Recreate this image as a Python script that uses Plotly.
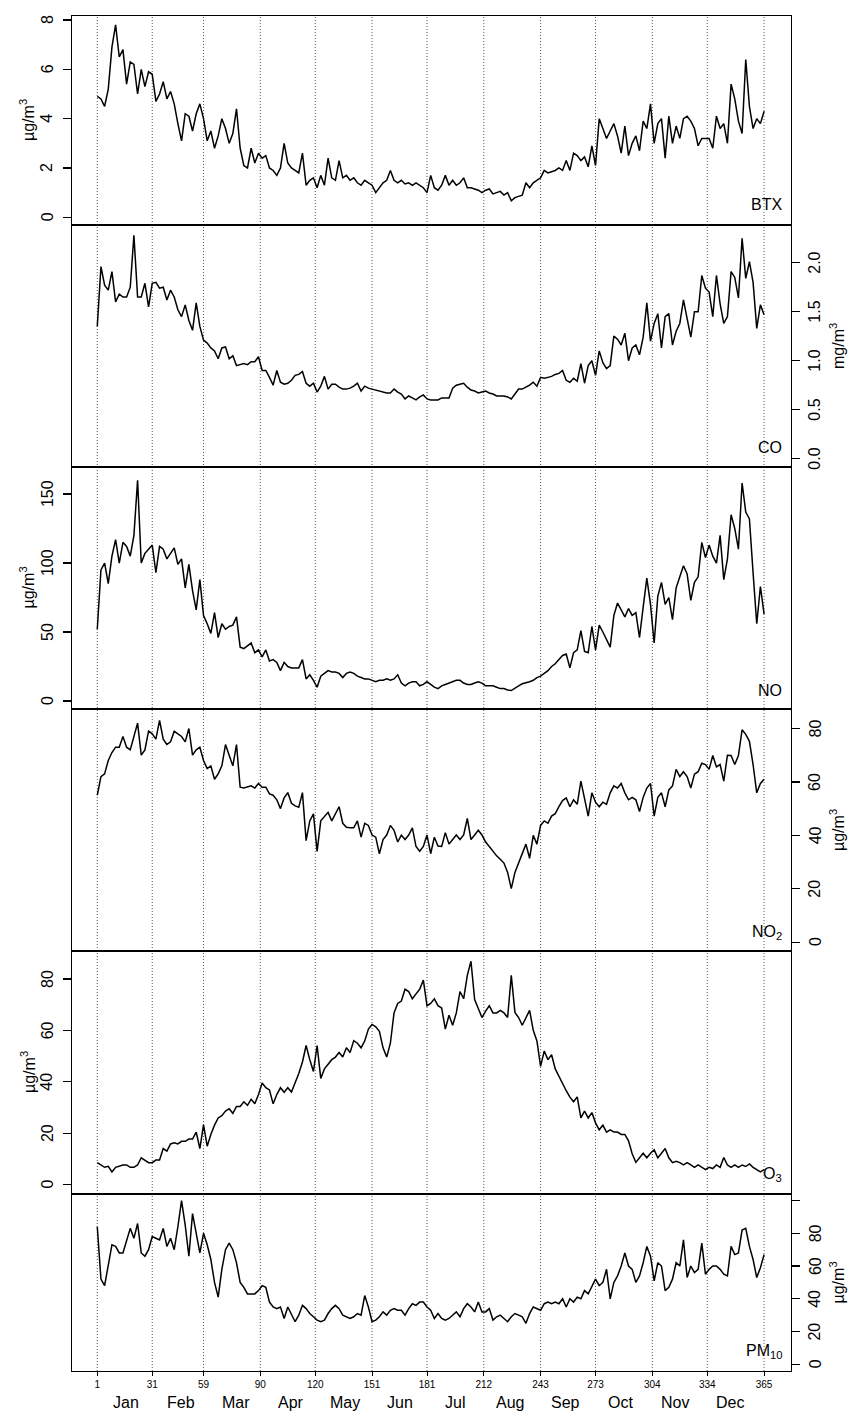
import plotly.graph_objects as go

# ---- data (values read every 2nd day: days 1,3,5,...,365) ----
btx = [4.9, 4.8, 4.5, 5.2, 6.9, 7.8, 6.5, 6.8, 5.4, 6.3,
       6.2, 5.0, 6.0, 5.3, 5.9, 5.8, 4.7, 5.0, 5.5, 4.8,
       5.1, 4.6, 3.8, 3.1, 4.2, 4.1, 3.5, 4.2, 4.6, 4.0,
       3.1, 3.5, 2.8, 3.3, 4.0, 3.6, 3.0, 3.4, 4.4, 2.8,
       2.1, 2.0, 2.8, 2.2, 2.6, 2.4, 2.5, 2.0, 1.9, 1.7,
       2.0, 3.0, 2.2, 2.0, 1.9, 1.8, 2.6, 1.3, 1.5, 1.6,
       1.2, 1.7, 1.3, 2.4, 1.6, 1.5, 2.3, 1.6, 1.7, 1.5,
       1.6, 1.4, 1.3, 1.5, 1.4, 1.3, 1.0, 1.2, 1.4, 1.5,
       1.9, 1.5, 1.4, 1.5, 1.35, 1.4, 1.3, 1.4, 1.3, 1.2,
       1.0, 1.7, 1.2, 1.1, 1.3, 1.7, 1.3, 1.5, 1.3, 1.4,
       1.6, 1.2, 1.2, 1.15, 1.1, 1.0, 1.1, 1.15, 0.95, 1.0,
       1.05, 0.9, 1.0, 0.67, 0.8, 0.85, 0.9, 1.4, 1.2, 1.4,
       1.5, 1.6, 1.9, 1.8, 1.85, 1.9, 2.0, 1.9, 2.3, 1.9,
       2.6, 2.5, 2.3, 2.45, 2.05, 2.9, 2.1, 4.0, 3.6, 3.2,
       3.5, 3.8, 3.3, 2.6, 3.7, 2.5, 3.0, 3.3, 2.7, 3.9,
       3.6, 4.6, 3.0, 3.8, 4.0, 2.4, 4.1, 3.0, 3.7, 3.2,
       4.0, 4.1, 3.9, 3.6, 2.9, 3.2, 3.2, 3.2, 2.8, 4.1,
       3.6, 3.8, 3.0, 5.4, 4.8, 3.9, 3.4, 6.4, 4.5, 3.6,
       4.0, 3.8, 4.3]

co = [1.35, 1.96, 1.77, 1.72, 1.91, 1.6, 1.68, 1.65, 1.65, 1.75,
      2.28, 1.65, 1.65, 1.79, 1.55, 1.79, 1.8, 1.74, 1.75, 1.62,
      1.72, 1.65, 1.52, 1.45, 1.57, 1.41, 1.31, 1.59, 1.35, 1.21,
      1.18, 1.13, 1.1, 1.02, 1.13, 1.14, 1.02, 1.05, 0.95, 0.96,
      0.97, 0.96, 0.99, 0.99, 1.04, 0.9, 0.9, 0.83, 0.75, 0.9,
      0.78, 0.76, 0.77, 0.8, 0.85, 0.86, 0.89, 0.77, 0.74, 0.77,
      0.68, 0.74, 0.84, 0.71, 0.76, 0.76, 0.73, 0.71, 0.71, 0.72,
      0.74, 0.77, 0.69, 0.74, 0.72, 0.71, 0.70, 0.69, 0.68, 0.67,
      0.67, 0.71, 0.68, 0.66, 0.61, 0.64, 0.62, 0.6, 0.63, 0.65,
      0.61, 0.6, 0.6, 0.6, 0.62, 0.62, 0.62, 0.72, 0.75, 0.76,
      0.77, 0.73, 0.7, 0.69, 0.67, 0.68, 0.69, 0.67, 0.66, 0.64,
      0.64, 0.64, 0.63, 0.61, 0.66, 0.71, 0.71, 0.73, 0.75, 0.78,
      0.74, 0.83, 0.82, 0.83, 0.84, 0.86, 0.87, 0.9, 0.8, 0.78,
      0.82, 0.79, 0.97, 0.77, 0.95, 1.0, 0.85, 1.1, 0.98, 0.92,
      0.95, 1.25, 1.22, 1.16, 1.28, 1.0, 1.13, 1.16, 1.06, 1.24,
      1.59, 1.2, 1.38, 1.48, 1.13, 1.45, 1.48, 1.16, 1.3, 1.38,
      1.62, 1.43, 1.24, 1.5, 1.5, 1.87, 1.74, 1.7, 1.45, 1.87,
      1.58, 1.38, 1.45, 1.91, 1.85, 1.64, 2.25, 1.84, 2.01, 1.8,
      1.33, 1.57, 1.47]

no = [52, 95, 100, 85, 105, 117, 100, 115, 112, 105,
      120, 160, 100, 107, 110, 113, 93, 112, 110, 103,
      107, 111, 99, 103, 82, 99, 80, 66, 88, 62,
      56, 49, 64, 46, 56, 52, 54, 55, 61, 39,
      38, 40, 42, 35, 37, 32, 37, 29, 30, 28,
      22, 28, 25, 24, 24, 24, 30, 16, 19, 15,
      10, 18, 20, 22, 21, 21, 20, 17, 20, 21,
      20, 18, 17, 16, 16, 15, 14, 15, 15, 16,
      15, 16, 19, 13, 11, 13, 14, 14, 11, 12,
      14, 12, 10, 9, 11, 12, 13, 14, 15, 15,
      13, 12, 12, 13, 14, 13, 11, 11, 11, 10,
      9, 9, 8, 7.6, 9, 11, 12.5, 13, 14, 15,
      17, 18, 20, 22, 25, 27, 30, 33, 34, 24,
      35, 37, 51, 36, 35, 54, 37, 55, 50, 45,
      39, 62, 71, 66, 61, 67, 62, 64, 46, 68,
      89, 70, 42, 76, 86, 70, 75, 59, 82, 90,
      98, 92, 73, 86, 90, 115, 104, 113, 105, 100,
      120, 88, 103, 135, 125, 110, 158, 137, 132, 93,
      56, 83, 63]

no2 = [55, 62, 63, 68, 71, 73, 73, 77, 73, 72,
       77, 82, 70, 72, 79, 78, 76, 83, 76, 74,
       75, 79, 78, 77, 75, 80, 70, 72, 73, 68,
       65, 66, 61, 63, 66, 74, 70, 66, 74, 58,
       57.7, 58, 58.5, 57.7, 59.4, 58, 58, 55.5, 55, 53.3,
       50, 54, 56, 52, 51, 50.5, 56, 38, 45.4, 48,
       34, 45.4, 47.2, 48.6, 45.4, 48, 50.7, 44.5, 43, 42.8,
       42.8, 45.4, 39.3, 44.5, 43.7, 40.1, 39.3, 33.1, 38.4, 40.1,
       43.7, 41.9, 37.5, 40.1, 38.4, 40.1, 42.8, 35.8, 34.0, 35.8,
       40.1, 33.1, 39.3, 36, 35.8, 41.0, 36.7, 38.4, 40.1, 38.4,
       40.1, 46.3, 38.4, 40.1, 41.9, 40.1, 37.5, 35.8, 34.0, 32.3,
       31, 29.6, 26.1, 20.0, 26.1, 29.6, 33, 36.7, 31.4, 40,
       36.7, 43.7, 45.4, 44.5, 47.2, 48.1, 50.7, 53, 54, 50.7,
       53.3, 51.6, 60.3, 54.2, 47.2, 55.9, 52.4, 50.7, 52.4, 51.6,
       55.9, 58.5, 57.7, 59.4, 55.9, 53.3, 54.2, 53.3, 48.9, 54.2,
       57.7, 59.4, 47.2, 54.2, 55.9, 50.7, 57, 58.5, 64.7, 62.0,
       63.8, 62.0, 57.7, 62.9, 63.8, 67, 66.5, 64.7, 69.9, 65.6,
       66.5, 60.3, 70, 69.9, 66.5, 69.9, 79.5, 77.8, 75.2, 66.5,
       55.9, 59.4, 61]

o3 = [8.5, 7.6, 6.7, 7.1, 4.9, 6.7, 7.1, 7.6, 7.6, 6.7,
      6.7, 7.6, 10.4, 9.5, 8.5, 8.5, 9.5, 9.5, 14.0, 13.0,
      15.8, 16.2, 15.8, 16.8, 16.8, 17.7, 17.7, 20.4, 14.0, 23.2,
      14.9, 19.5, 23.1, 25.9, 26.8, 28.6, 29.5, 27.7, 30.4, 30.4,
      32.2, 30.8, 33.2, 31.4, 35.0, 39.5, 37.7, 36.8, 31.4, 35.0,
      37.7, 35.9, 37.7, 36.0, 39.5, 43.2, 47.7, 54.1, 48.6, 44.0,
      54.1, 41.3, 45.0, 46.8, 48.6, 49.6, 51.4, 49.6, 53.2, 51.4,
      56.0, 55.0, 53.2, 55.9, 60.5, 62.3, 61.4, 59.6, 53.2, 49.6,
      55.0, 66.8, 70.5, 71.4, 76.0, 75.1, 72.3, 74.2, 76.0, 79.6,
      69.6, 70.5, 72.3, 69.6, 68.7, 60.5, 65.9, 62.0, 66.8, 75.1,
      72.3, 81.4, 86.9, 72.0, 68.7, 65.0, 67.5, 69.6, 66.8, 66.8,
      67.8, 66.8, 65.0, 81.4, 67.0, 65.0, 62.0, 65.0, 67.8, 60.0,
      55.9, 46.0, 52.0, 48.6, 50.5, 45.0, 42.0, 39.5, 36.5, 34.0,
      32.2, 34.1, 25.9, 28.6, 25.9, 28.0, 24.0, 21.3, 23.1, 20.4,
      21.3, 20.4, 20.4, 19.5, 19.5, 17.0, 12.0, 8.6, 10.4, 12.2,
      10.4, 12.2, 13.5, 10.4, 12.2, 14.0, 10.4, 8.5, 9.0, 8.5,
      7.6, 8.5, 7.6, 6.7, 7.6, 6.7, 5.8, 6.7, 6.2, 7.6,
      6.7, 10.5, 7.6, 6.7, 7.6, 6.7, 7.6, 7.0, 8.0, 6.7,
      5.8, 4.9, 5.8]

pm10 = [84, 52, 48, 60, 73, 72, 68, 68, 76, 83,
        77, 86, 68, 66, 70, 78, 77, 76, 83, 72,
        77, 70, 84, 100, 85, 66, 92, 80, 68, 80,
        73, 64, 50, 41, 58, 70, 74, 70, 62, 50,
        47, 43, 43, 43, 45, 48, 47, 38, 35, 34,
        35, 28, 35, 30, 26, 30, 36, 34, 31, 29,
        27, 26, 27, 31, 34, 36, 34, 30, 29, 28,
        29, 31, 30, 42, 35, 26, 27, 29, 32, 30,
        33, 34, 33, 33, 30, 34, 37, 36, 38, 38,
        35, 33, 28, 31, 28, 27, 28, 30, 32, 29,
        34, 37, 35, 32, 38, 32, 32, 34, 27, 29,
        30, 28, 26, 29, 31, 30, 29, 25, 31, 35,
        34, 33, 37, 38, 37, 38, 37, 40, 35, 40,
        38, 41, 40, 45, 43, 48, 52, 48, 50, 58,
        40, 50, 54, 60, 68, 60, 58, 50, 54, 62,
        72, 66, 51, 62, 60, 45, 47, 52, 62, 60,
        76, 53, 60, 56, 58, 74, 55, 58, 60, 60,
        58, 55, 54, 72, 67, 68, 82, 83, 72, 64,
        53, 59, 67]

month_starts = [1, 31, 59, 90, 120, 151, 181, 212, 243, 273, 304, 334, 365]
month_names = ["Jan", "Feb", "Mar", "Apr", "May", "Jun",
               "Jul", "Aug", "Sep", "Oct", "Nov", "Dec"]
month_label_pos = [16.5, 46.5, 76.5, 106.5, 136.5, 166.5,
                   196.5, 226.5, 256.5, 286.5, 316.5, 346.5]

panel_labels = ["BTX", "CO", "NO", "NO<sub>2</sub>", "O<sub>3</sub>", "PM<sub>10</sub>"]
unit_labels = ["µg/m<sup>3</sup>", "mg/m<sup>3</sup>", "µg/m<sup>3</sup>",
               "µg/m<sup>3</sup>", "µg/m<sup>3</sup>", "µg/m<sup>3</sup>"]
tick_vals = [[0, 2, 4, 6, 8],
             [0, 0.5, 1.0, 1.5, 2.0],
             [0, 50, 100, 150],
             [0, 20, 40, 60, 80],
             [0, 20, 40, 60, 80],
             [0, 20, 40, 60, 80, 100]]
tick_text = [["0", "2", "4", "6", "8"],
             ["0.0", "0.5", "1.0", "1.5", "2.0"],
             ["0", "50", "100", "150"],
             ["0", "20", "40", "60", "80"],
             ["0", "20", "40", "60", "80"],
             ["0", "20", "40", "60", "80", None]]  # 100: tick without label

series = [btx, co, no, no2, o3, pm10]

# ---- layout geometry ----
W, H = 848, 1413
ML, MR, MT, MB = 72, 57, 16, 42
PW, PH = W - ML - MR, H - MT - MB
bounds_px = [16, 225, 467, 709, 951, 1194, 1371]
y_ranges = [[-0.312, 8.163], [-0.085, 2.385], [-5.8, 169.6],
            [-3.33, 87.3], [-3.7, 90.9], [-4.1, 104.0]]
sides = ["left", "right", "left", "right", "left", "right"]
x_range = [-12.8, 379.7]

FONT = "Liberation Sans, Arial, Helvetica, sans-serif"


def py2paper(py):
    return (MT + PH - py) / PH


def px2paper(px):
    return (px - ML) / PW


fig = go.Figure()
layout = dict(width=W, height=H, template="none",
              margin=dict(l=ML, r=MR, t=MT, b=MB),
              paper_bgcolor="white", plot_bgcolor="white",
              showlegend=False, font=dict(family=FONT, color="black"))

annotations = []
shapes = []
for i, vals in enumerate(series):
    n = i + 1
    sfx = "" if n == 1 else str(n)
    days = list(range(1, 2 * len(vals), 2))
    fig.add_trace(go.Scatter(x=days, y=vals, mode="lines",
                             line=dict(color="black", width=1.5),
                             xaxis="x" + sfx, yaxis="y" + sfx,
                             hoverinfo="skip"))
    dom = [py2paper(bounds_px[i + 1]), py2paper(bounds_px[i])]
    last = (n == 6)
    xa = dict(
        domain=[0, 1], range=x_range, anchor="y" + sfx,
        showline=True, mirror=True, linecolor="black", linewidth=1.2,
        showgrid=False, zeroline=False, automargin=False,
        showticklabels=last, ticks="outside" if last else "",
        ticklen=4, tickwidth=1, tickcolor="black",
        tickfont=dict(size=10, family=FONT))
    if last:
        xa.update(tickvals=month_starts, ticktext=[str(v) for v in month_starts])
    else:
        xa.update(tickvals=[])
    if n != 1:
        xa["matches"] = "x"
    layout["xaxis" + sfx] = xa
    layout["yaxis" + sfx] = dict(
        domain=dom, range=y_ranges[i], anchor="x" + sfx, side=sides[i],
        showline=True, mirror=True, linecolor="black", linewidth=1.2,
        showgrid=False, zeroline=False, automargin=False,
        ticks="outside", ticklen=8, tickwidth=1.2, tickcolor="black",
        tickvals=tick_vals[i], showticklabels=False)
    # rotated tick labels placed on the axis' own scale
    lx = 47 if sides[i] == "left" else 815
    for v, t in zip(tick_vals[i], tick_text[i]):
        if t is None:
            continue
        annotations.append(dict(text=t, xref="paper", yref="y" + sfx,
                                x=px2paper(lx), y=v, showarrow=False,
                                textangle=-90, xanchor="center",
                                yanchor="middle",
                                font=dict(size=16, family=FONT)))
    # unit title
    cy = (bounds_px[i] + bounds_px[i + 1]) / 2
    ux = 27.5 if sides[i] == "left" else 837
    annotations.append(dict(text=unit_labels[i], xref="paper", yref="paper",
                            x=px2paper(ux), y=py2paper(cy), showarrow=False,
                            textangle=-90, xanchor="center", yanchor="middle",
                            font=dict(size=16, family=FONT)))

label_y_px = [204.8, 447.5, 690, 932.5, 1174, 1351.5]
for i, lab in enumerate(panel_labels):
    annotations.append(dict(text=lab, xref="paper", yref="paper",
                            x=px2paper(783.5), y=py2paper(label_y_px[i]),
                            showarrow=False, xanchor="right", yanchor="middle",
                            font=dict(size=16, family=FONT)))

for pos, name in zip(month_label_pos, month_names):
    annotations.append(dict(text=name, xref="x6", yref="paper",
                            x=pos, y=py2paper(1403), showarrow=False,
                            xanchor="center", yanchor="middle",
                            font=dict(size=16, family=FONT)))

for d in month_starts:
    shapes.append(dict(type="line", xref="x6", yref="paper",
                       x0=d, x1=d, y0=0, y1=1, layer="below",
                       line=dict(color="#555555", width=1, dash="1px,2px")))

layout["annotations"] = annotations
layout["shapes"] = shapes
fig.update_layout(**layout)
fig.write_html("out.html",
               config={"displayModeBar": False, "staticPlot": True},
               post_script="document.body.style.margin='0';"
                           "document.body.style.overflow='hidden';")
